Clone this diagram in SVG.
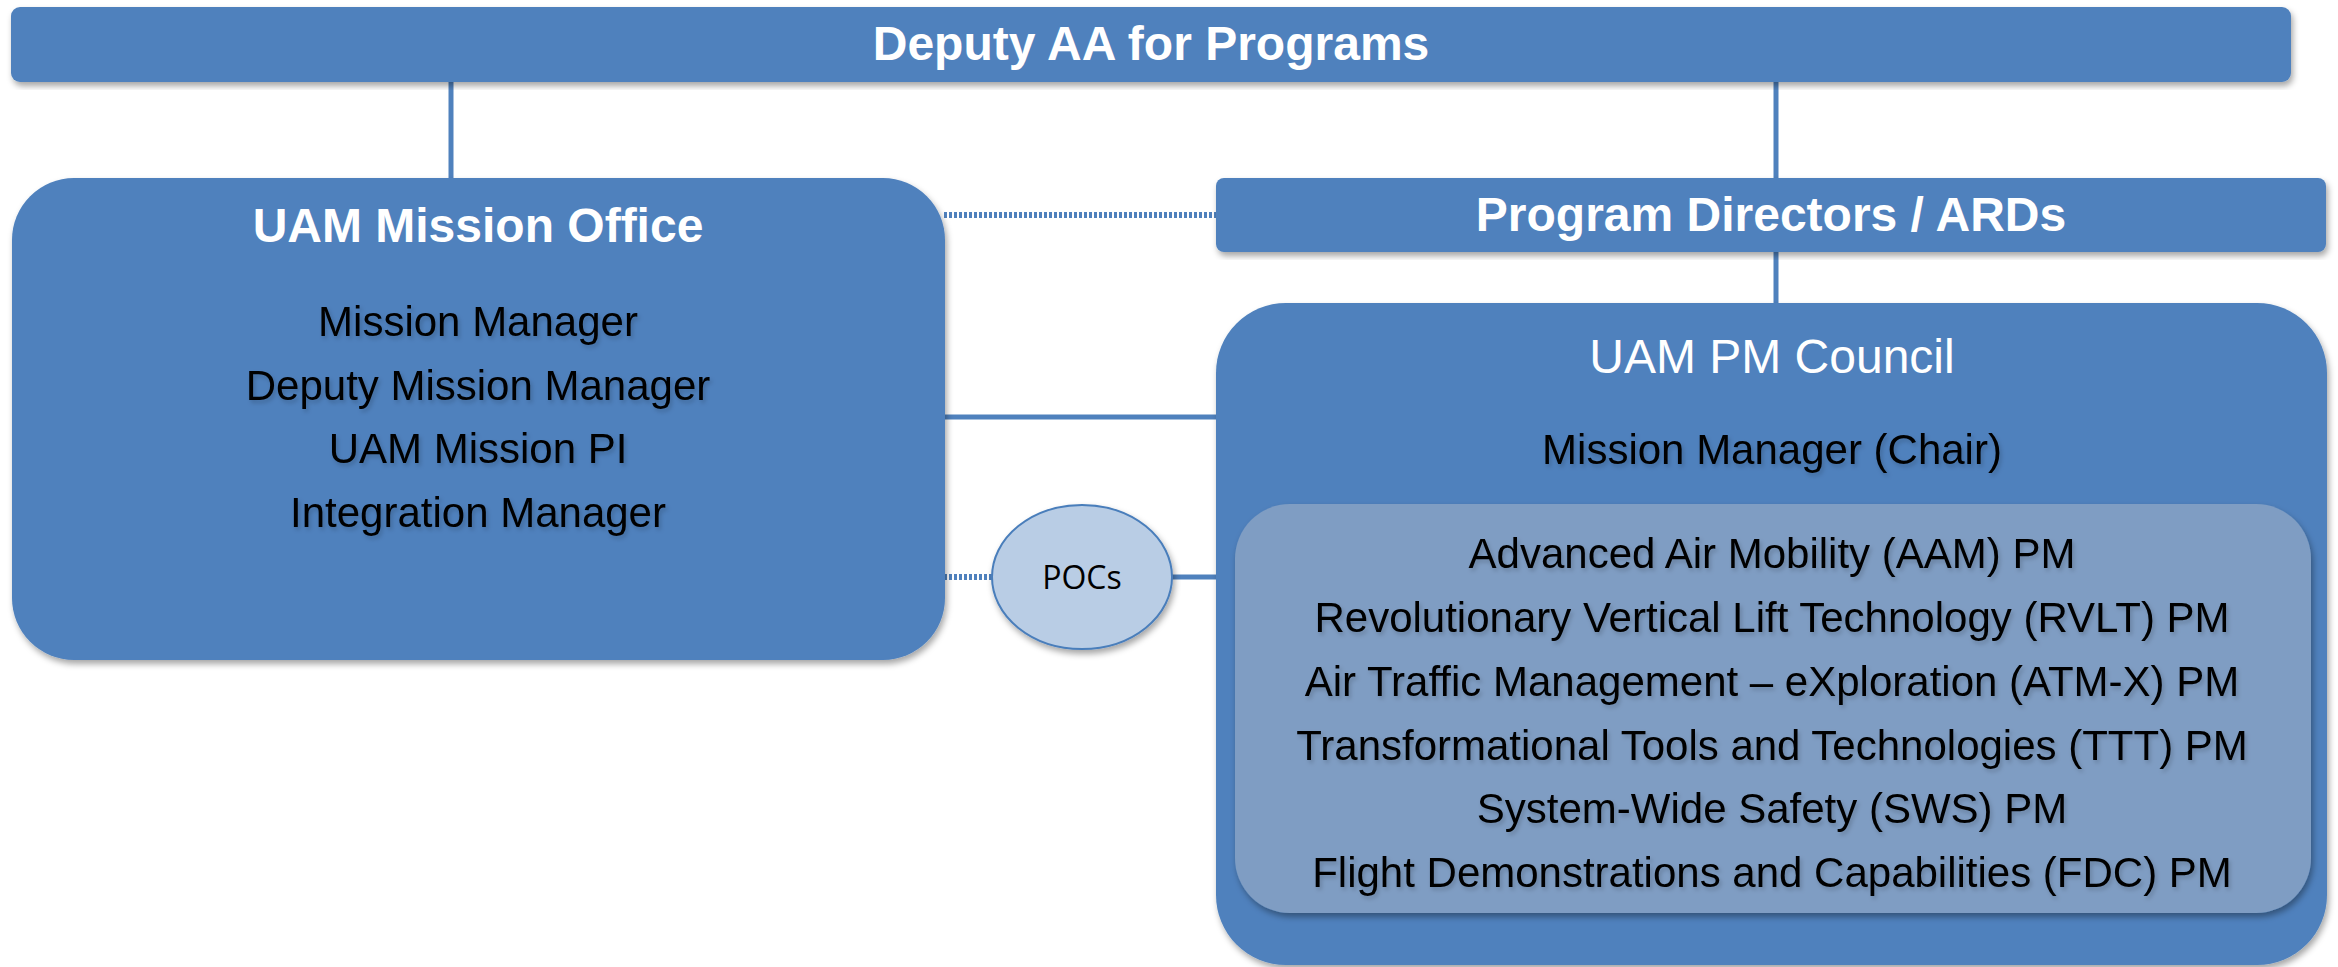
<svg xmlns="http://www.w3.org/2000/svg" width="2338" height="967" viewBox="0 0 2338 967">
<defs>
<filter id="sh" x="-5%" y="-5%" width="110%" height="115%">
<feDropShadow dx="2" dy="4" stdDeviation="3" flood-color="#000" flood-opacity="0.35"/>
</filter>
<filter id="tsh" x="-5%" y="-20%" width="110%" height="150%">
<feDropShadow dx="2" dy="3" stdDeviation="2" flood-color="#000" flood-opacity="0.18"/>
</filter>
</defs>
<style>
.box{fill:#4F81BD;filter:url(#sh)}
.inner{fill:#7F9DC3;filter:url(#sh)}
.hb{font-family:"Liberation Sans",Arial,sans-serif;font-weight:bold;font-size:48px;fill:#fff;text-anchor:middle}
.hr{font-family:"Liberation Sans",Arial,sans-serif;font-size:48px;fill:#fff;text-anchor:middle}
.t{font-family:"Liberation Sans",Arial,sans-serif;font-size:42px;fill:#000;text-anchor:middle;filter:url(#tsh)}
.c{stroke:#4F81BD;stroke-width:5;fill:none}
.d{stroke:#4F81BD;stroke-width:6;fill:none;stroke-dasharray:3 2}
</style>
<g id="connectors">
<line class="c" x1="451" y1="80" x2="451" y2="180"/>
<line class="c" x1="1776" y1="80" x2="1776" y2="180"/>
<line class="c" x1="1776" y1="250" x2="1776" y2="305"/>
<line class="d" x1="944" y1="215" x2="1216" y2="215"/>
<line class="c" x1="944" y1="417" x2="1218" y2="417"/>
<line class="d" x1="944" y1="577" x2="994" y2="577"/>
<line class="c" x1="1170" y1="577" x2="1218" y2="577"/>
</g>
<g id="deputy-aa">
<rect class="box" x="11" y="7" width="2280" height="75" rx="9"/>
<text class="hb" x="1151" y="60">Deputy AA for Programs</text>
</g>
<g id="mission-office">
<rect class="box" x="12" y="178" width="933" height="482" rx="62"/>
<text class="hb" x="478" y="242">UAM Mission Office</text>
<text class="t" x="478" y="336">Mission Manager</text>
<text class="t" x="478" y="400">Deputy Mission Manager</text>
<text class="t" x="478" y="463">UAM Mission PI</text>
<text class="t" x="478" y="527">Integration Manager</text>
</g>
<g id="program-directors">
<rect class="box" x="1216" y="178" width="1110" height="74" rx="8"/>
<text class="hb" x="1771" y="231">Program Directors / ARDs</text>
</g>
<g id="pm-council">
<rect class="box" x="1216" y="303" width="1111" height="662" rx="70"/>
<text class="hr" x="1772" y="373">UAM PM Council</text>
<text class="t" x="1772" y="464">Mission Manager (Chair)</text>
</g>
<g id="pm-list">
<rect class="inner" x="1235" y="504" width="1076" height="409" rx="55"/>
<text class="t" x="1772" y="568">Advanced Air Mobility (AAM) PM</text>
<text class="t" x="1772" y="632">Revolutionary Vertical Lift Technology (RVLT) PM</text>
<text class="t" x="1772" y="696">Air Traffic Management – eXploration (ATM-X) PM</text>
<text class="t" x="1772" y="760">Transformational Tools and Technologies (TTT) PM</text>
<text class="t" x="1772" y="823">System-Wide Safety (SWS) PM</text>
<text class="t" x="1772" y="887">Flight Demonstrations and Capabilities (FDC) PM</text>
</g>
<g id="pocs">
<ellipse cx="1082" cy="577" rx="90" ry="72" fill="#B9CDE5" stroke="#4A7EBB" stroke-width="2" filter="url(#sh)"/>
<text x="1082" y="589" font-family="'Open Sans',sans-serif" font-size="32" fill="#000" text-anchor="middle">POCs</text>
</g>
</svg>
